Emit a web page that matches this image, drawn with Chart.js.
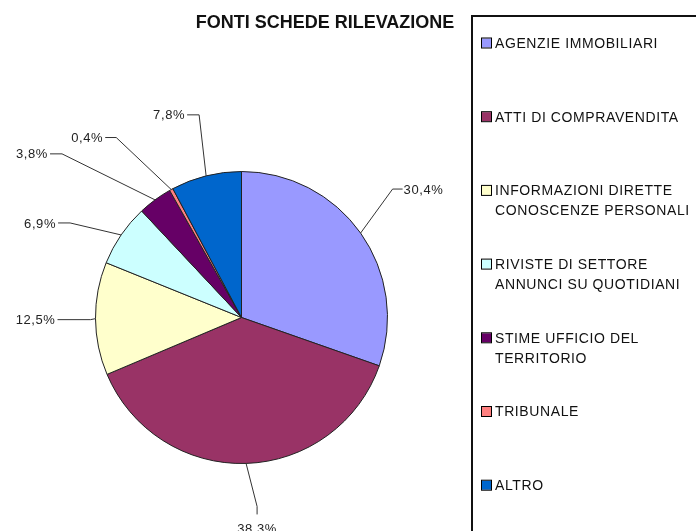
<!DOCTYPE html>
<html>
<head>
<meta charset="utf-8">
<title>Fonti schede rilevazione</title>
<script src="https://cdn.jsdelivr.net/npm/chart.js@4.4.1/dist/chart.umd.min.js"></script>
<style>
  html, body { margin: 0; padding: 0; background: #fff; }
  #wrap { width: 696px; height: 531px; }
</style>
</head>
<body>
<div id="wrap"><canvas id="pieChart" width="696" height="531"></canvas></div>
<script>
// data
const categories = [
  ['AGENZIE IMMOBILIARI'],
  ['ATTI DI COMPRAVENDITA'],
  ['INFORMAZIONI DIRETTE', 'CONOSCENZE PERSONALI'],
  ['RIVISTE DI SETTORE', 'ANNUNCI SU QUOTIDIANI'],
  ['STIME UFFICIO DEL', 'TERRITORIO'],
  ['TRIBUNALE'],
  ['ALTRO']
];
const shares = [30.4, 38.3, 12.5, 6.9, 3.8, 0.4, 7.8];
const sliceColors = ['#9999FF', '#993366', '#FFFFCC', '#CCFFFF', '#660066', '#FF8080', '#0066CC'];
const chartTitle = 'FONTI SCHEDE RILEVAZIONE';

// where each leader line bends, relative to the slice's point on the rim
const leaders = [
  { dx: 32, dy: -44, run: 10, side: 'right' },
  { dx: 11, dy: 43, run: 8, side: 'down' },
  { dx: -5, dy: 1, run: 33, side: 'left' },
  { dx: -51, dy: -12, run: 12, side: 'left' },
  { dx: -93, dy: -46, run: 12, side: 'left' },
  { dx: -55, dy: -52, run: 11, side: 'left' },
  { dx: -7, dy: -61, run: 12, side: 'left' }
];

const FONT = '"Liberation Sans", Arial, sans-serif';

const decorations = {
  id: 'decorations',
  afterDraw(chart) {
    const ctx = chart.ctx;
    const arcs = chart.getDatasetMeta(0).data;
    ctx.save();

    // title
    ctx.fillStyle = '#111';
    ctx.font = 'bold 18px ' + FONT;
    ctx.textAlign = 'center';
    ctx.textBaseline = 'middle';
    ctx.fillText(chartTitle, 325, 23);

    // value labels with leader lines
    ctx.font = '13px ' + FONT;
    if ('letterSpacing' in ctx) ctx.letterSpacing = '0.6px';
    arcs.forEach((arc, i) => {
      const mid = (arc.startAngle + arc.endAngle) / 2;
      const ax = arc.x + Math.cos(mid) * arc.outerRadius;
      const ay = arc.y + Math.sin(mid) * arc.outerRadius;
      const l = leaders[i];
      const ex = ax + l.dx, ey = ay + l.dy;
      let tx = ex, ty = ey;
      if (l.side === 'right') tx = ex + l.run;
      else if (l.side === 'left') tx = ex - l.run;
      else ty = ey + l.run;
      ctx.strokeStyle = '#333';
      ctx.lineWidth = 1;
      ctx.beginPath();
      ctx.moveTo(ax, ay);
      ctx.lineTo(ex, ey);
      ctx.lineTo(tx, ty);
      ctx.stroke();
      const txt = shares[i].toFixed(1).replace('.', ',') + '%';
      ctx.fillStyle = '#222';
      if (l.side === 'right') {
        ctx.textAlign = 'left'; ctx.textBaseline = 'middle';
        ctx.fillText(txt, tx + 1, ty + 1);
      } else if (l.side === 'left') {
        ctx.textAlign = 'right'; ctx.textBaseline = 'middle';
        ctx.fillText(txt, tx - 2, ty + 1);
      } else {
        ctx.textAlign = 'center'; ctx.textBaseline = 'top';
        ctx.fillText(txt, tx, ty + 8);
      }
    });

    // legend box
    ctx.strokeStyle = '#111';
    ctx.lineWidth = 2;
    ctx.strokeRect(472, 16, 300, 600);
    ctx.font = '14px ' + FONT;
    if ('letterSpacing' in ctx) ctx.letterSpacing = '0.6px';
    ctx.textAlign = 'left';
    ctx.textBaseline = 'middle';
    categories.forEach((lines, i) => {
      const y = 43 + i * 73.7;
      ctx.fillStyle = sliceColors[i];
      ctx.fillRect(482, y - 4.5, 9, 9);
      ctx.strokeStyle = '#000';
      ctx.lineWidth = 1;
      ctx.strokeRect(481.5, y - 5, 10, 10);
      ctx.fillStyle = '#111';
      lines.forEach((t, k) => ctx.fillText(t, 495, y + 1 + k * 20));
    });

    ctx.restore();
  }
};

new Chart(document.getElementById('pieChart').getContext('2d'), {
  type: 'pie',
  data: {
    labels: categories,
    datasets: [{
      data: shares,
      backgroundColor: sliceColors,
      borderColor: '#222',
      borderWidth: 1
    }]
  },
  options: {
    responsive: false,
    animation: false,
    layout: { padding: { left: 95, right: 308, top: 171, bottom: 67 } },
    plugins: {
      legend: { display: false },
      title: { display: false },
      tooltip: { enabled: false }
    }
  },
  plugins: [decorations]
});
</script>
</body>
</html>
